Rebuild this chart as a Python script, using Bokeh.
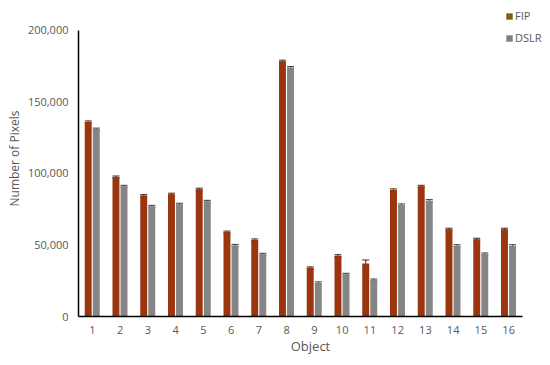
from bokeh.plotting import figure
from bokeh.models import ColumnDataSource, Range1d, Legend, LegendItem, Whisker, TeeHead, FixedTicker, NumeralTickFormatter
from bokeh.transform import dodge
from bokeh.embed import file_html
from bokeh.resources import INLINE

objects = [1, 2, 3, 4, 5, 6, 7, 8, 9, 10, 11, 12, 13, 14, 15, 16]
fip = [136000, 97500, 84500, 85500, 89000, 59000, 53500, 178500, 34000, 42500, 37000, 88500, 91000, 61000, 54000, 61000]
dslr = [131000, 91000, 77000, 78500, 80500, 49700, 43500, 174000, 23500, 29500, 25500, 78000, 81000, 49500, 43700, 49500]
fip_err = [700, 700, 700, 700, 700, 700, 700, 700, 700, 700, 2500, 700, 700, 700, 700, 700]
dslr_err = [700, 700, 700, 700, 700, 700, 700, 700, 700, 700, 700, 700, 700, 700, 700, 700]
y_ticks = [0, 50000, 100000, 150000, 200000]

FONT = "Open Sans"
src = ColumnDataSource(dict(
    x=objects, fip=fip, dslr=dslr,
    fip_lo=[v - e for v, e in zip(fip, fip_err)], fip_hi=[v + e for v, e in zip(fip, fip_err)],
    dslr_lo=[v - e for v, e in zip(dslr, dslr_err)], dslr_hi=[v + e for v, e in zip(dslr, dslr_err)],
))

# frame extends to top/right edges so the legend fits inside it; axes are bounded
p = figure(width=542, height=357, output_backend="svg", toolbar_location=None,
           x_range=Range1d(0.5, 17.22), y_range=Range1d(0, 220900),
           min_border_left=78, min_border_right=0, min_border_top=0, min_border_bottom=40)
p.outline_line_color = None
p.grid.grid_line_color = None

b1 = p.vbar(x=dodge("x", -0.15, range=p.x_range), top="fip", width=0.25, source=src,
            fill_color="#9A3510", line_color=None)
b2 = p.vbar(x=dodge("x", 0.14, range=p.x_range), top="dslr", width=0.25, source=src,
            fill_color="#858585", line_color=None)

w1 = Whisker(base=dodge("x", -0.15, range=p.x_range), upper="fip_hi", lower="fip_lo", source=src,
             line_color="#3a2a1a", line_width=1)
w1.upper_head = TeeHead(size=7, line_color="#3a2a1a")
w1.lower_head = TeeHead(size=7, line_color="#3a2a1a")
w2 = Whisker(base=dodge("x", 0.14, range=p.x_range), upper="dslr_hi", lower="dslr_lo", source=src,
             line_color="#3a3a3a", line_width=1)
w2.upper_head = TeeHead(size=7, line_color="#3a3a3a")
w2.lower_head = TeeHead(size=7, line_color="#3a3a3a")
p.add_layout(w1)
p.add_layout(w2)

# legend swatches: zero-height bars (nothing visible in the plot)
l1 = p.vbar(x="x", top=0, width=0.25, source=src, fill_color="#7F6000", line_color=None)
l2 = p.vbar(x="x", top=0, width=0.25, source=src, fill_color="#7F7F7F", line_color=None)
legend = Legend(items=[LegendItem(label="FIP", renderers=[l1]), LegendItem(label="DSLR", renderers=[l2])],
                location=(427, 271), background_fill_alpha=0, border_line_color=None,
                label_text_font=FONT, label_text_font_size="11px", label_text_color="#595959",
                glyph_width=8, glyph_height=8, spacing=7, padding=0, margin=0, label_standoff=2,
                label_height=10)
p.add_layout(legend, "center")

p.xaxis.ticker = FixedTicker(ticks=objects)
p.yaxis.ticker = FixedTicker(ticks=y_ticks)
p.yaxis.formatter = NumeralTickFormatter(format="0,0")
p.xaxis.bounds = (0.5, 16.5)
p.yaxis.bounds = (y_ticks[0], y_ticks[-1])
for ax in (p.xaxis, p.yaxis):
    ax.major_tick_line_color = None
    ax.minor_tick_line_color = None
    ax.major_label_text_font = FONT
    ax.major_label_text_font_size = "11px"
    ax.major_label_text_color = "#595959"
    ax.axis_label_text_font = FONT
    ax.axis_label_text_font_style = "normal"
    ax.axis_label_text_color = "#595959"
    ax.axis_line_color = "#000000"
    ax.axis_line_width = 1.5
p.xaxis.major_label_standoff = 3
p.yaxis.major_label_standoff = 4
p.xaxis.axis_label = "Object"
p.xaxis.axis_label_text_font_size = "13px"
p.xaxis.axis_label_standoff = 0
p.yaxis.axis_label = "Number of Pixels"
p.yaxis.axis_label_text_font_size = "12px"
p.yaxis.axis_label_standoff = 2

open("out.html", "w").write(file_html(p, INLINE))
